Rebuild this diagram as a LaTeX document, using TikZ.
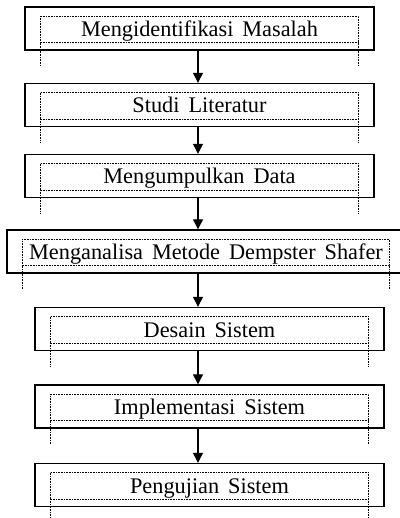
\documentclass[tikz,border=0pt]{standalone}
\usepackage{fontspec}
\setmainfont[WordSpace=1.6]{Liberation Serif}
\usepackage{tikz}
\usetikzlibrary{positioning,calc,arrows.meta}

\tikzset{
  stage/.style={draw, line width=1.4pt, inner sep=0pt, minimum width=349pt, minimum height=43pt,
    text height=18pt, text depth=2pt, font=\fontsize{22.3}{24}\selectfont},
  dotframe/.style={line width=0.8pt, dash pattern=on 0.8pt off 0.8pt},
  flow/.style={-{Triangle[width=10pt,length=10pt]}, line width=1.2pt}
}

\begin{document}
\begin{tikzpicture}[x=1pt,y=-1pt]
    \useasboundingbox (0,0) rectangle (399,518);
    \coordinate (axis) at (198,0);
    % stages
    \node[stage] (masalah) at (199.5,28.5) {Mengidentifikasi Masalah};
    \node[stage] (literatur) at (199.5,105) {Studi Literatur};
    \node[stage] (data) at (199.5,176) {Mengumpulkan Data};
    \node[stage, minimum width=398pt] (metode) at (206,251.5) {Menganalisa Metode Dempster Shafer};
    \node[stage] (desain) at (209.5,329) {Desain Sistem};
    \node[stage] (implementasi) at (209.5,406.5) {Implementasi Sistem};
    \node[stage] (pengujian) at (209.5,485) {Pengujian Sistem};
    % dotted text frames
    \foreach \n in {masalah,literatur,data,metode,desain,implementasi,pengujian} {
      \draw[dotframe] ($(\n.north west)+(16,10)$) rectangle ($(\n.south east)+(-16,-8)$);
      \draw[dotframe] ($(\n.south west)+(16,-8)$) -- ++(0,23);
      \draw[dotframe] ($(\n.south east)+(-16,-8)$) -- ++(0,23);
    }
    % arrows
    \draw[flow] (masalah.south -| axis) -- (literatur.north -| axis);
    \draw[flow] (literatur.south -| axis) -- (data.north -| axis);
    \draw[flow] (data.south -| axis) -- (metode.north -| axis);
    \draw[flow] (metode.south -| axis) -- (desain.north -| axis);
    \draw[flow] (desain.south -| axis) -- (implementasi.north -| axis);
    \draw[flow] (implementasi.south -| axis) -- (pengujian.north -| axis);
\end{tikzpicture}
\end{document}
